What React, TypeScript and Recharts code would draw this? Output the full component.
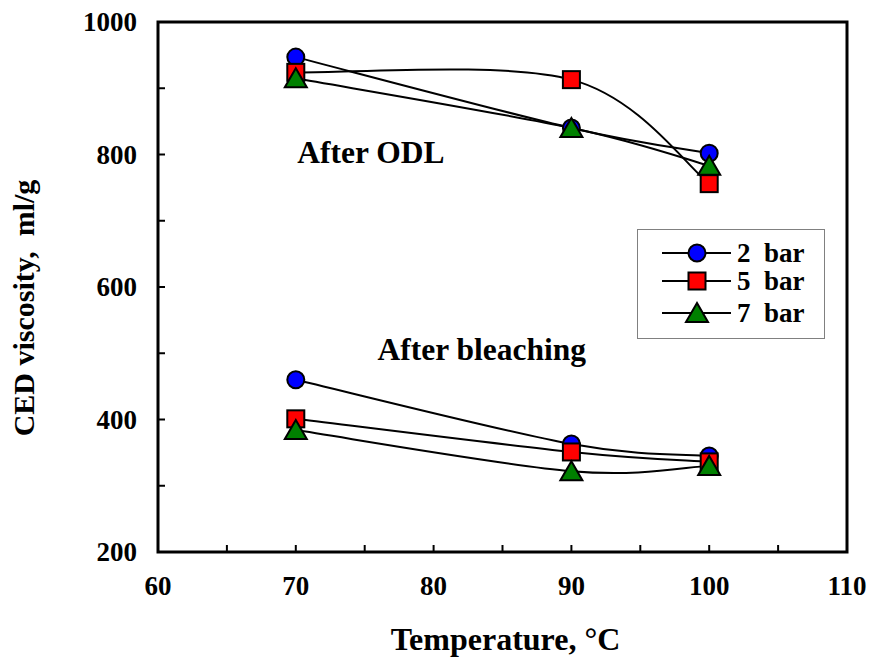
import React from "react";
import {
  LineChart,
  Line,
  XAxis,
  YAxis,
  ReferenceArea,
  ReferenceDot,
  Legend,
} from "recharts";

// temperature (°C) and CED viscosity (ml/g) for each pressure
const temps = [70, 90, 100];
const odl2 = [947, 840, 802];
const odl5 = [924, 913, 756];
const odl7 = [915, 840, 783];
const bleach2 = [460, 363, 345];
const bleach5 = [401, 351, 336];
const bleach7 = [384, 322, 330];

const xTicks = [60, 65, 70, 75, 80, 85, 90, 95, 100, 105, 110];
const yTicks = [200, 300, 400, 500, 600, 700, 800, 900, 1000];

const FONT = "'Times New Roman', 'Liberation Serif', serif";

const data = temps.map((t, i) => ({
  t,
  odl2: odl2[i],
  odl5: odl5[i],
  odl7: odl7[i],
  bleach2: bleach2[i],
  bleach5: bleach5[i],
  bleach7: bleach7[i],
}));

type Shape = "circle" | "square" | "triangle";

const series: { key: string; name: string; color: string; shape: Shape }[] = [
  { key: "2", name: "2 bar", color: "#0000ff", shape: "circle" },
  { key: "5", name: "5 bar", color: "#ff0000", shape: "square" },
  { key: "7", name: "7 bar", color: "#008000", shape: "triangle" },
];

// Excel-style smoothed line: cubic bezier with control points at 1/6 of neighbour span
function excelSmooth(context: any) {
  let pts: number[][] = [];
  return {
    areaStart() {},
    areaEnd() {},
    lineStart() {
      pts = [];
    },
    point(x: number, y: number) {
      pts.push([+x, +y]);
    },
    lineEnd() {
      if (!pts.length) return;
      context.moveTo(pts[0][0], pts[0][1]);
      for (let i = 0; i < pts.length - 1; i++) {
        const p0 = pts[i - 1] || pts[i];
        const p1 = pts[i];
        const p2 = pts[i + 1];
        const p3 = pts[i + 2] || p2;
        context.bezierCurveTo(
          p1[0] + (p2[0] - p0[0]) / 6,
          p1[1] + (p2[1] - p0[1]) / 6,
          p2[0] - (p3[0] - p1[0]) / 6,
          p2[1] - (p3[1] - p1[1]) / 6,
          p2[0],
          p2[1]
        );
      }
    },
  };
}

function Marker({ cx, cy, shape, color }: { cx: number; cy: number; shape: Shape; color: string }) {
  if (shape === "circle") {
    return <circle cx={cx} cy={cy} r={8.5} fill={color} stroke="#000" strokeWidth={2} />;
  }
  if (shape === "square") {
    return <rect x={cx - 8.5} y={cy - 8.5} width={17} height={17} fill={color} stroke="#000" strokeWidth={2} />;
  }
  return (
    <polygon
      points={`${cx},${cy - 10} ${cx - 11},${cy + 9} ${cx + 11},${cy + 9}`}
      fill={color}
      stroke="#000"
      strokeWidth={2}
    />
  );
}

const tickText = { fontFamily: FONT, fontWeight: 700, fontSize: 27, fill: "#000" };

function XTick(props: any) {
  const { x, y, payload } = props;
  const v = payload.value;
  return (
    <g>
      <line x1={x} y1={y} x2={x} y2={y - 7} stroke="#000" strokeWidth={2} />
      {v % 10 === 0 && (
        <text x={x} y={y + 43} textAnchor="middle" {...tickText}>
          {v}
        </text>
      )}
    </g>
  );
}

function YTick(props: any) {
  const { x, y, payload } = props;
  const v = payload.value;
  return (
    <g>
      <line x1={x} y1={y} x2={x + 7} y2={y} stroke="#000" strokeWidth={2} />
      {v % 200 === 0 && (
        <text x={x - 21} y={y + 9} textAnchor="end" {...tickText}>
          {v}
        </text>
      )}
    </g>
  );
}

const legendRows = [24, 52, 84];

function LegendBox() {
  return (
    <svg width={188} height={110} style={{ display: "block", overflow: "visible" }}>
      <rect x={0.5} y={0.5} width={187} height={109} fill="#fff" stroke="#808080" strokeWidth={1} />
      {series.map((s, i) => {
        const cy = legendRows[i];
        return (
          <g key={s.key}>
            <line x1={25} y1={cy} x2={94} y2={cy} stroke="#000" strokeWidth={2} />
            <Marker cx={60} cy={cy} shape={s.shape} color={s.color} />
            <text x={100} y={cy + 9} fontFamily={FONT} fontWeight={700} fontSize={27} fill="#000" xmlSpace="preserve">
              {s.name.replace(" ", "  ")}
            </text>
          </g>
        );
      })}
    </svg>
  );
}

const annot = { fontFamily: FONT, fontWeight: 700, fontSize: 31.5, fill: "#000" };

export default function App() {
  const groups = [
    { prefix: "odl", list: series },
    { prefix: "bleach", list: series },
  ];
  return (
    <div style={{ position: "absolute", left: 0, top: 0, background: "#fff" }}>
      <LineChart width={872} height={658} data={data} margin={{ top: 22, right: 25, bottom: 105, left: 157 }}>
        <XAxis
          dataKey="t"
          type="number"
          domain={[60, 110]}
          ticks={xTicks}
          height={1}
          tickSize={0}
          tickMargin={0}
          tickLine={false}
          axisLine={false}
          tick={(p: any) => <XTick {...p} />}
          interval={0}
          label={{
            content: (p: any) => {
              const vb = p.viewBox;
              return (
                <text x={vb.x + vb.width / 2 + 3} y={vb.y + 98} textAnchor="middle" {...annot} fontSize={32}>
                  Temperature, °C
                </text>
              );
            },
          }}
        />
        <YAxis
          type="number"
          domain={[200, 1000]}
          ticks={yTicks}
          width={1}
          tickSize={0}
          tickMargin={0}
          tickLine={false}
          axisLine={false}
          tick={(p: any) => <YTick {...p} />}
          interval={0}
          label={{
            content: (p: any) => {
              const vb = p.viewBox;
              const cx = 34;
              const cy = vb.y + vb.height / 2 + 21;
              return (
                <text
                  x={cx}
                  y={cy}
                  textAnchor="middle"
                  transform={`rotate(-90 ${cx} ${cy})`}
                  xmlSpace="preserve"
                  {...annot}
                  fontSize={30}
                >
                  CED viscosity,  ml/g
                </text>
              );
            },
          }}
        />
        <ReferenceArea x1={60} x2={110} y1={200} y2={1000} fill="none" stroke="#000" strokeWidth={3} />
        <ReferenceDot
          x={75.45}
          y={804}
          r={0}
          fill="none"
          stroke="none"
          label={{ value: "After ODL", position: "center", ...annot }}
        />
        <ReferenceDot
          x={83.5}
          y={506}
          r={0}
          fill="none"
          stroke="none"
          label={{ value: "After bleaching", position: "center", ...annot }}
        />
        {groups.flatMap((g) =>
          g.list.map((s) => (
            <Line
              key={g.prefix + s.key}
              dataKey={g.prefix + s.key}
              name={s.name}
              type={excelSmooth as any}
              stroke="#000"
              strokeWidth={2}
              isAnimationActive={false}
              activeDot={false}
              legendType="none"
              dot={(p: any) => <Marker key={p.index} cx={p.cx} cy={p.cy} shape={s.shape} color={s.color} />}
            />
          ))
        )}
        <Legend
          layout="horizontal"
          align="center"
          verticalAlign="middle"
          content={() => <LegendBox />}
          wrapperStyle={{ position: "absolute", left: 637, top: 229, width: 188, height: 110 }}
        />
      </LineChart>
    </div>
  );
}
